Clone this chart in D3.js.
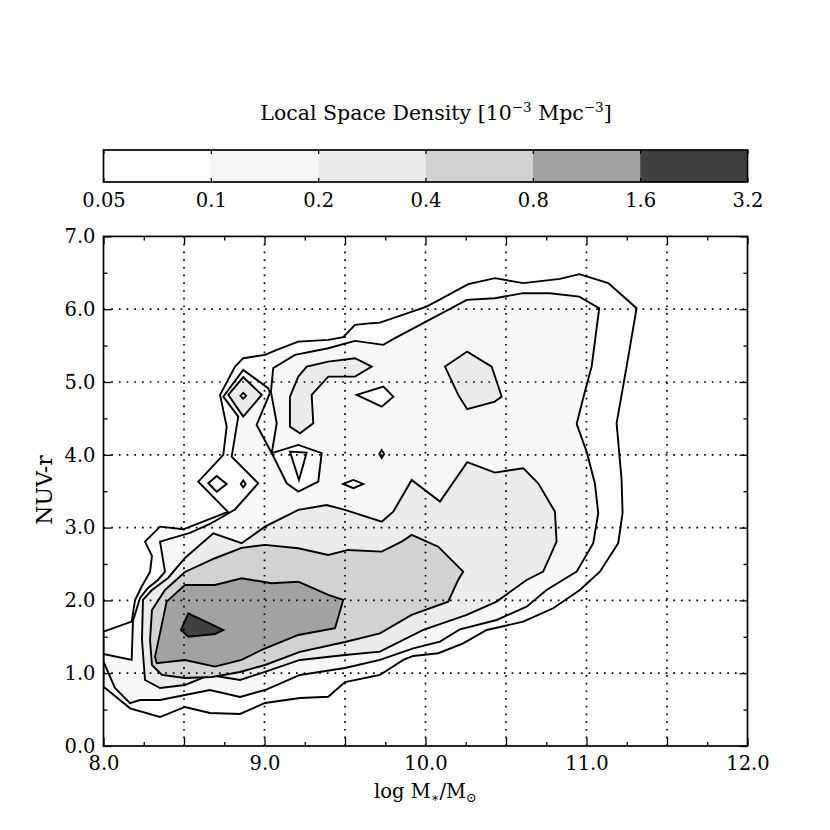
<!DOCTYPE html>
<html>
<head>
<meta charset="utf-8">
<script src="https://cdn.jsdelivr.net/npm/d3@7"></script>
<style>
  body { margin: 0; background: #fff; }
  svg text { font-family: "DejaVu Serif", serif; fill: #000; }
</style>
</head>
<body>
<svg id="chart" width="830" height="830"></svg>
<script>
// contour levels of the local space density [1e-3 Mpc^-3]
const levels = [0.05, 0.1, 0.2, 0.4, 0.8, 1.6, 3.2];
const xLabelTicks = [8, 9, 10, 11, 12];
const xMajorTicks = [8, 8.5, 9, 9.5, 10, 10.5, 11, 11.5, 12];
const xMinorTicks = [8.25, 8.75, 9.25, 9.75, 10.25, 10.75, 11.25, 11.75];
const yMajorTicks = [0, 1, 2, 3, 4, 5, 6, 7];
const yMinorTicks = [0.5, 1.5, 2.5, 3.5, 4.5, 5.5, 6.5];

// contour polygons, [log M*, NUV-r]
const outer005 = [[8.000,1.570],[8.175,1.708],[8.196,2.006],[8.239,2.198],[8.289,2.391],[8.301,2.611],[8.258,2.807],[8.351,3.013],[8.496,2.977],[8.630,3.092],[8.773,3.215],[8.589,3.631],[8.744,3.998],[8.765,4.387],[8.724,4.823],[8.817,5.212],[8.868,5.327],[9.003,5.372],[9.076,5.441],[9.210,5.555],[9.396,5.578],[9.489,5.616],[9.562,5.785],[9.666,5.808],[9.717,5.816],[10.007,6.036],[10.266,6.344],[10.431,6.426],[10.607,6.358],[10.835,6.417],[10.955,6.481],[11.135,6.358],[11.311,6.014],[11.249,5.212],[11.187,4.434],[11.218,3.655],[11.224,3.197],[11.197,2.785],[11.083,2.395],[10.959,2.143],[10.793,1.892],[10.607,1.708],[10.380,1.594],[10.234,1.411],[10.079,1.274],[9.924,1.237],[9.862,1.182],[9.717,0.976],[9.500,0.879],[9.396,0.677],[9.220,0.660],[9.003,0.591],[8.848,0.440],[8.661,0.453],[8.506,0.536],[8.351,0.398],[8.165,0.518],[8.000,0.815]];
const main01 = [[8.000,1.264],[8.175,1.182],[8.183,1.718],[8.227,2.034],[8.276,2.171],[8.338,2.281],[8.382,2.395],[8.351,2.807],[8.537,2.927],[8.661,3.050],[8.817,3.249],[8.961,3.609],[8.796,3.975],[8.837,4.525],[8.744,4.799],[8.868,5.166],[9.023,4.915],[9.034,4.850],[8.951,4.411],[9.045,4.022],[9.138,3.609],[9.210,3.494],[9.334,3.631],[9.355,4.022],[9.210,4.136],[9.045,4.022],[9.076,4.434],[9.040,4.864],[9.054,5.190],[9.189,5.372],[9.396,5.464],[9.562,5.565],[9.738,5.510],[9.810,5.602],[9.986,5.808],[10.256,6.128],[10.431,6.151],[10.607,6.220],[10.773,6.220],[10.955,6.173],[11.079,6.014],[11.032,5.212],[10.980,4.782],[10.939,4.424],[11.001,4.040],[11.052,3.609],[11.073,3.197],[11.042,2.785],[10.939,2.395],[10.752,2.143],[10.628,1.914],[10.442,1.731],[10.214,1.603],[10.090,1.433],[9.924,1.342],[9.717,1.182],[9.500,1.072],[9.220,0.976],[9.003,0.769],[8.848,0.673],[8.661,0.769],[8.506,0.701],[8.351,0.632],[8.227,0.632],[8.165,0.587],[8.071,0.797],[8.000,1.158]];
const main02 = [[8.239,1.456],[8.245,2.006],[8.301,2.143],[8.401,2.308],[8.506,2.583],[8.682,2.922],[8.858,2.785],[9.003,3.013],[9.210,3.243],[9.386,3.311],[9.500,3.243],[9.728,3.082],[9.800,3.219],[9.914,3.655],[10.090,3.357],[10.259,3.898],[10.431,3.755],[10.607,3.816],[10.700,3.609],[10.804,3.219],[10.814,2.807],[10.731,2.395],[10.628,2.281],[10.442,1.983],[10.256,1.800],[9.986,1.594],[9.717,1.296],[9.500,1.250],[9.220,1.182],[9.003,1.017],[8.848,0.907],[8.661,0.976],[8.506,0.838],[8.351,0.797],[8.258,0.907]];
const hook02 = [[9.158,4.387],[9.158,4.799],[9.210,5.074],[9.262,5.212],[9.396,5.280],[9.562,5.327],[9.666,5.212],[9.562,5.074],[9.396,5.074],[9.293,4.823],[9.303,4.434],[9.220,4.296]];
const diamond02 = [[8.775,4.823],[8.868,5.066],[8.983,4.823],[8.868,4.525]];
const patch02 = [[10.121,5.212],[10.259,5.418],[10.411,5.212],[10.473,4.800],[10.431,4.731],[10.259,4.627],[10.203,4.823]];
const main04 = [[8.289,1.456],[8.301,1.869],[8.382,2.143],[8.506,2.391],[8.692,2.579],[8.858,2.721],[9.003,2.762],[9.210,2.716],[9.396,2.624],[9.520,2.693],[9.728,2.670],[9.852,2.807],[9.914,2.899],[10.079,2.738],[10.234,2.395],[10.203,2.281],[10.141,1.983],[9.914,1.800],[9.717,1.548],[9.500,1.429],[9.220,1.292],[9.003,1.113],[8.848,1.017],[8.674,0.948],[8.506,0.934],[8.363,0.976],[8.301,1.113]];
const main08 = [[8.506,2.212],[8.692,2.212],[8.858,2.304],[9.045,2.235],[9.210,2.257],[9.396,2.075],[9.489,2.006],[9.438,1.617],[9.210,1.525],[8.982,1.319],[8.858,1.182],[8.692,1.090],[8.506,1.182],[8.330,1.136],[8.320,1.227],[8.392,1.983]];
const peak16 = [[8.527,1.823],[8.744,1.594],[8.692,1.539],[8.527,1.502],[8.481,1.594]];
const lobeDiamond01 = [[8.651,3.609],[8.703,3.709],[8.765,3.600],[8.703,3.494]];
const lobeDot01 = [[8.853,3.600],[8.868,3.648],[8.883,3.600],[8.868,3.552]];
const dimple01 = [[8.850,4.810],[8.868,4.850],[8.886,4.810],[8.868,4.770]];
const hole005a = [[9.573,4.823],[9.738,4.937],[9.800,4.799],[9.728,4.662]];
const hole005b = [[9.489,3.600],[9.552,3.655],[9.614,3.600],[9.552,3.541]];
const hole005c = [[9.713,4.011],[9.728,4.066],[9.743,4.011],[9.728,3.956]];
const gapBelow005 = [[9.158,4.044],[9.262,4.030],[9.214,3.655]];

// draw order: [level index, polygon]; -1 is below the lowest level
const regions = [
  [0, outer005], [1, main01], [1, lobeDiamond01], [1, lobeDot01],
  [0, hole005a], [0, hole005b], [0, hole005c], [-1, gapBelow005],
  [2, main02], [2, hook02], [2, diamond02], [2, patch02], [1, dimple01],
  [3, main04], [4, main08], [5, peak16]
];

const svg = d3.select('#chart');
const x = d3.scaleLinear().domain([8, 12]).range([103.5, 747.5]);
const y = d3.scaleLinear().domain([0, 7]).range([746, 236.4]);
const gray = d3.scaleLinear().domain([levels[0], levels[levels.length - 1]]).range(['#ffffff', '#000000']);
const fillOf = i => i < 0 ? '#ffffff' : gray((levels[i] + levels[i + 1]) / 2);

// plot area
const plot = svg.append('g');
plot.append('clipPath').attr('id', 'clip')
  .append('rect').attr('x', x(8)).attr('y', y(7)).attr('width', x(12) - x(8)).attr('height', y(0) - y(7));

const line = d3.line().x(d => x(d[0])).y(d => y(d[1]));
plot.append('g').attr('clip-path', 'url(#clip)')
  .selectAll('path').data(regions).join('path')
  .attr('d', d => line(d[1]) + 'Z')
  .attr('fill', d => fillOf(d[0]))
  .attr('stroke', '#000').attr('stroke-width', 1.9).attr('stroke-linejoin', 'miter');

// dotted grid on top of the fills
const grid = plot.append('g').attr('stroke', '#000').attr('stroke-width', 1.7).attr('stroke-dasharray', '1.7,6');
grid.selectAll('.gx').data(xMajorTicks.slice(1, -1)).join('line')
  .attr('x1', d => x(d)).attr('x2', d => x(d)).attr('y1', y(0)).attr('y2', y(7));
grid.selectAll('.gy').data(yMajorTicks.slice(1, -1)).join('line')
  .attr('y1', d => y(d)).attr('y2', d => y(d)).attr('x1', x(8)).attr('x2', x(12));

// axes, ticks pointing inward on all four sides
const fmt = d => xLabelTicks.includes(d) ? d.toFixed(1) : '';
function styleAxis(g) {
  g.select('.domain').remove();
  g.selectAll('line').attr('stroke', '#000').attr('stroke-width', 1.3);
  g.selectAll('text').style('font-family', '"DejaVu Serif", serif').style('font-size', '19.5px').attr('fill', '#000');
}
svg.append('g').attr('transform', `translate(0,${y(0)})`)
  .call(d3.axisBottom(x).tickValues(xMajorTicks).tickSizeInner(-8).tickSizeOuter(0).tickPadding(10).tickFormat(fmt)).call(styleAxis);
svg.append('g').attr('transform', `translate(0,${y(0)})`)
  .call(d3.axisBottom(x).tickValues(xMinorTicks).tickSizeInner(-4).tickSizeOuter(0).tickFormat('')).call(styleAxis);
svg.append('g').attr('transform', `translate(0,${y(7)})`)
  .call(d3.axisTop(x).tickValues(xMajorTicks).tickSizeInner(-8).tickSizeOuter(0).tickFormat('')).call(styleAxis);
svg.append('g').attr('transform', `translate(0,${y(7)})`)
  .call(d3.axisTop(x).tickValues(xMinorTicks).tickSizeInner(-4).tickSizeOuter(0).tickFormat('')).call(styleAxis);
svg.append('g').attr('transform', `translate(${x(8)},0)`)
  .call(d3.axisLeft(y).tickValues(yMajorTicks).tickSizeInner(-8).tickSizeOuter(0).tickPadding(8).tickFormat(d => d.toFixed(1))).call(styleAxis);
svg.append('g').attr('transform', `translate(${x(8)},0)`)
  .call(d3.axisLeft(y).tickValues(yMinorTicks).tickSizeInner(-4).tickSizeOuter(0).tickFormat('')).call(styleAxis);
svg.append('g').attr('transform', `translate(${x(12)},0)`)
  .call(d3.axisRight(y).tickValues(yMajorTicks).tickSizeInner(-8).tickSizeOuter(0).tickFormat('')).call(styleAxis);
svg.append('g').attr('transform', `translate(${x(12)},0)`)
  .call(d3.axisRight(y).tickValues(yMinorTicks).tickSizeInner(-4).tickSizeOuter(0).tickFormat('')).call(styleAxis);

svg.append('rect').attr('x', x(8)).attr('y', y(7)).attr('width', x(12) - x(8)).attr('height', y(0) - y(7))
  .attr('fill', 'none').attr('stroke', '#000').attr('stroke-width', 1.7);

// axis titles
const xt = svg.append('text').attr('x', 425.5).attr('y', 798).attr('text-anchor', 'middle').style('font-size', '19.5px');
xt.append('tspan').text('log M');
xt.append('tspan').attr('dy', 4).style('font-size', '13px').text('∗');
xt.append('tspan').attr('dy', -4).text('/M');
xt.append('tspan').attr('dy', 4).style('font-size', '13px').text('⊙');
svg.append('text').attr('transform', 'translate(52,490) rotate(-90)').attr('text-anchor', 'middle')
  .style('font-size', '22px').text('NUV-r');

// colorbar
const cb = d3.scaleLog().domain([levels[0], levels[levels.length - 1]]).range([103.5, 747.5]);
const cbTop = 150, cbH = 32;
const bar = svg.append('g');
bar.selectAll('rect').data(d3.range(levels.length - 1)).join('rect')
  .attr('x', i => cb(levels[i])).attr('width', i => cb(levels[i + 1]) - cb(levels[i]))
  .attr('y', cbTop).attr('height', cbH).attr('fill', i => fillOf(i));
bar.append('g').attr('transform', `translate(0,${cbTop + cbH})`)
  .call(d3.axisBottom(cb).tickValues(levels).tickSizeInner(-4).tickSizeOuter(0).tickPadding(11).tickFormat(d => String(d)))
  .call(styleAxis);
bar.append('g').attr('transform', `translate(0,${cbTop})`)
  .call(d3.axisTop(cb).tickValues(levels).tickSizeInner(-4).tickSizeOuter(0).tickFormat(''))
  .call(styleAxis);
bar.append('rect').attr('x', cb(levels[0])).attr('y', cbTop).attr('width', cb(levels[6]) - cb(levels[0])).attr('height', cbH)
  .attr('fill', 'none').attr('stroke', '#000').attr('stroke-width', 1.7);

const title = svg.append('text').attr('x', 436).attr('y', 120).attr('text-anchor', 'middle').style('font-size', '20.5px');
title.append('tspan').text('Local Space Density [10');
title.append('tspan').attr('dy', -8).style('font-size', '13.5px').text('−3');
title.append('tspan').attr('dy', 8).text(' Mpc');
title.append('tspan').attr('dy', -8).style('font-size', '13.5px').text('−3');
title.append('tspan').attr('dy', 8).text(']');
</script>
</body>
</html>
